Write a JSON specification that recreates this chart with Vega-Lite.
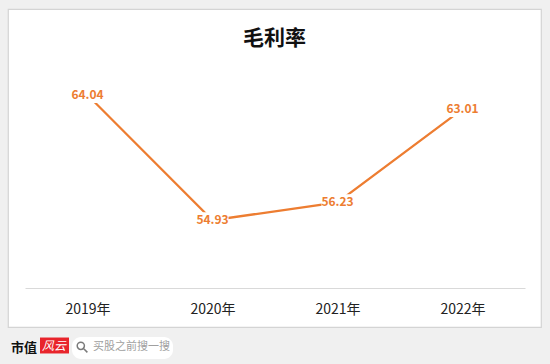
{
  "$schema": "https://vega.github.io/schema/vega-lite/v6.json",
  "width": 533,
  "height": 318,
  "autosize": {"type": "none"},
  "padding": {"left": 8, "top": 9, "right": 9, "bottom": 37},
  "background": "#f0f0f0",
  "title": {
    "text": "毛利率",
    "font": "Noto Sans CJK SC",
    "fontSize": 21,
    "fontWeight": "bold",
    "color": "#111111",
    "anchor": "middle",
    "frame": "group",
    "baseline": "middle",
    "offset": 0,
    "dy": 51
  },
  "data": {
    "values": [
      {"year": "2019年", "rate": 64.04},
      {"year": "2020年", "rate": 54.93},
      {"year": "2021年", "rate": 56.23},
      {"year": "2022年", "rate": 63.01}
    ]
  },
  "encoding": {
    "x": {
      "field": "year",
      "type": "nominal",
      "sort": null,
      "scale": {"type": "point", "range": [17, 517], "padding": 0.5},
      "axis": {
        "orient": "bottom",
        "offset": -39,
        "title": null,
        "ticks": false,
        "tickSize": 0,
        "grid": false,
        "domainColor": "#d9d9d9",
        "domainWidth": 1,
        "labelFont": "Noto Sans CJK SC",
        "labelFontSize": 14,
        "labelColor": "#222222",
        "labelAngle": 0,
        "labelBaseline": "middle",
        "labelPadding": 21
      }
    },
    "y": {
      "field": "rate",
      "type": "quantitative",
      "scale": {"domain": [50, 66], "range": [279, 59], "zero": false, "nice": false},
      "axis": null
    }
  },
  "layer": [
    {"mark": {"type": "line", "color": "#ED7D31", "strokeWidth": 2.25}},
    {
      "mark": {
        "type": "point",
        "shape": "M-1,-0.5H1V0.5H-1Z",
        "size": 1024,
        "filled": true,
        "color": "white",
        "opacity": 1
      }
    },
    {
      "mark": {
        "type": "text",
        "color": "#ED7D31",
        "font": "Noto Sans CJK SC",
        "fontWeight": "bold",
        "fontSize": 12
      },
      "encoding": {"text": {"field": "rate", "type": "quantitative", "format": ".2f"}}
    },
    {
      "transform": [{"filter": "false"}],
      "mark": {"type": "point", "filled": true},
      "encoding": {
        "color": {
          "datum": "风云",
          "scale": {"domain": ["风云"], "range": ["#e8242b"]},
          "legend": {
            "orient": "none",
            "legendX": 3,
            "legendY": 322,
            "padding": 0,
            "title": "市值",
            "titleOrient": "left",
            "titleAnchor": "middle",
            "titleBaseline": "top",
            "titleFont": "Noto Sans CJK SC",
            "titleFontSize": 13,
            "titleFontWeight": "bold",
            "titleColor": "#111111",
            "titlePadding": 2,
            "symbolType": "M-1,-0.55H1V0.55H-1Z",
            "symbolSize": 841,
            "symbolStrokeWidth": 0,
            "symbolOpacity": 1,
            "labelFont": "Noto Sans CJK SC",
            "labelFontSize": 12,
            "labelFontStyle": "italic",
            "labelColor": "white",
            "labelOffset": -27
          }
        }
      }
    },
    {
      "transform": [{"filter": "false"}],
      "mark": {"type": "point"},
      "encoding": {
        "shape": {
          "datum": "买股之前搜一搜",
          "scale": {
            "domain": ["买股之前搜一搜"],
            "range": ["M-0.8,-0.2A0.6,0.6 0 1,0 0.4,-0.2A0.6,0.6 0 1,0 -0.8,-0.2ZM0.25,0.25L0.9,0.9"]
          },
          "legend": {
            "orient": "none",
            "legendX": 64,
            "legendY": 328,
            "title": null,
            "fillColor": "white",
            "cornerRadius": 9,
            "padding": 3,
            "symbolSize": 144,
            "symbolStrokeColor": "#7a7a7a",
            "symbolFillColor": "transparent",
            "symbolStrokeWidth": 1.5,
            "symbolOpacity": 1,
            "labelFont": "Noto Sans CJK SC",
            "labelFontSize": 11,
            "labelColor": "#a0a0a0",
            "labelOffset": 4
          }
        }
      }
    }
  ],
  "config": {
    "view": {"fill": "white", "stroke": "#d4d4d4", "strokeWidth": 1.2}
  }
}
